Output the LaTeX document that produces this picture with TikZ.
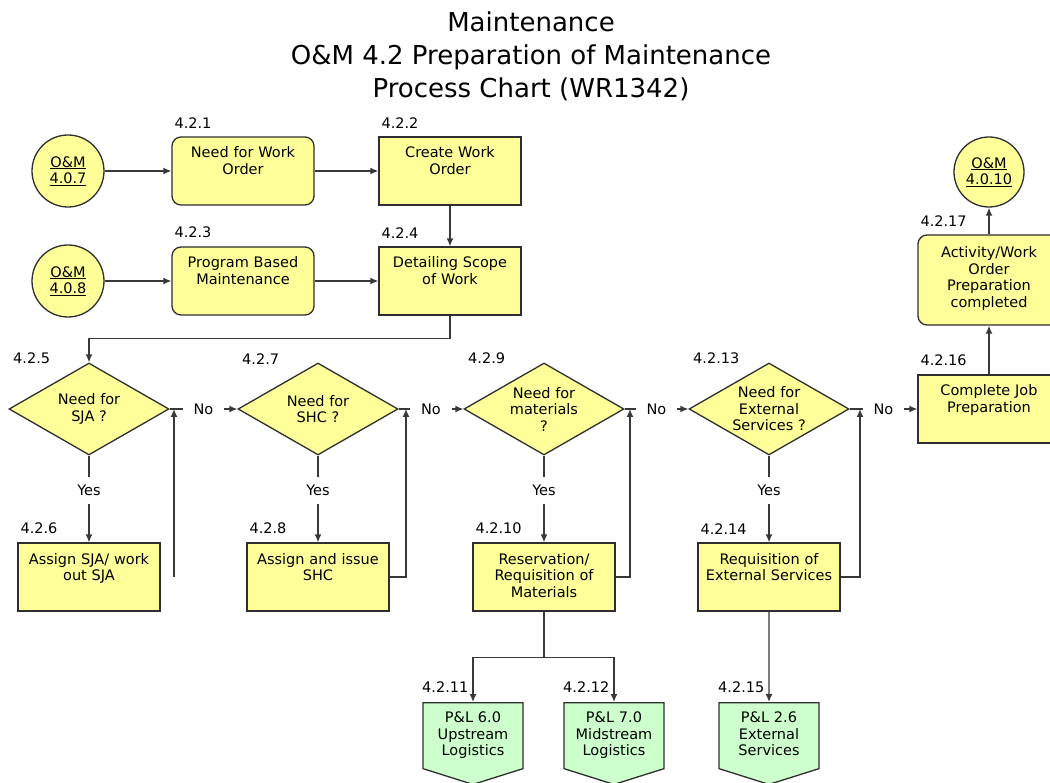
\documentclass[tikz,border=0pt]{standalone}
\usepackage{fontspec}
\setmainfont{DejaVu Sans}
\usepackage{tikz}
\usetikzlibrary{arrows.meta,
                positioning,
                shapes.geometric,
                shapes.symbols
                }
\definecolor{boxyellow}{HTML}{FFFF99}
\definecolor{pagegreen}{HTML}{CCFFCC}
\definecolor{edgegray}{HTML}{2E2E2E}
\definecolor{linegray}{HTML}{383838}

\tikzset{
    every node/.style={font=\fontsize{14.5}{16.5}\selectfont},
    proc/.style={draw=edgegray, fill=boxyellow, line width=1.3pt, align=center,
                 text width=130pt, inner xsep=6pt, inner ysep=4pt,
                 text height=17pt, text depth=43pt},
    rproc/.style={proc, rounded corners=9pt},
    conn/.style={circle, draw=edgegray, fill=boxyellow, line width=1.3pt,
                 minimum size=72pt, inner sep=0pt, align=center},
    dec/.style={diamond, aspect=1.74, draw=edgegray, fill=boxyellow, line width=1.3pt,
                minimum width=160pt, minimum height=92pt, inner sep=0pt, align=center},
    offpage/.style={signal, signal to=south, signal pointer angle=145,
                    draw=edgegray, fill=pagegreen, line width=1.3pt, align=center,
                    text width=88pt, inner xsep=6pt, inner ysep=4pt,
                    text height=16pt, text depth=42pt},
    num/.style={anchor=south west, inner sep=0pt},
    flow/.style={draw=linegray, line width=1.4pt, -{Latex[length=8pt,width=7pt]}},
    answer/.style={fill=white, inner xsep=11pt, inner ysep=8pt}
}

\begin{document}
\begin{tikzpicture}[x=1pt, y=-1pt]
            \useasboundingbox (0,0) rectangle (1050,783);
            \clip (0,0) rectangle (1050,783);

            %title
            \node[font=\fontsize{26}{33}\selectfont, align=center] (title) at (531,56)
                {Maintenance\\O\&M 4.2 Preparation of Maintenance\\Process Chart (WR1342)};

            %inputs and first steps
            \node[conn] (c407) at (68,171) {\underline{O\&M}\\\underline{4.0.7}};
            \node[conn] (c408) at (68,281) {\underline{O\&M}\\\underline{4.0.8}};
            \node[rproc] (p421) at (243,171) {Need for Work\\Order};
            \node[proc] (p422) at (450,171) {Create Work\\Order};
            \node[rproc] (p423) at (243,281) {Program Based\\Maintenance};
            \node[proc] (p424) at (450,281) {Detailing Scope\\of Work};

            %decisions
            \node[dec] (d425) at (89,409) {Need for\\SJA ?};
            \node[dec] (d427) at (318,409) {Need for\\SHC ?};
            \node[dec] (d429) at (544,409) {Need for\\materials\\?};
            \node[dec] (d4213) at (769,409) {Need for\\External\\Services ?};

            %work steps
            \node[proc] (p426) at (89,577) {Assign SJA/ work\\out SJA};
            \node[proc] (p428) at (318,577) {Assign and issue\\SHC};
            \node[proc] (p4210) at (544,577) {Reservation/\\Requisition of\\Materials};
            \node[proc] (p4214) at (769,577) {Requisition of\\External Services};
            \node[proc] (p4216) at (989,409) {Complete Job\\Preparation};
            \node[rproc, text height=19pt, text depth=63pt] (p4217) at (989,280)
                {Activity/Work\\Order\\Preparation\\completed};
            \node[conn, minimum size=70pt] (c4010) at (989,172) {\underline{O\&M}\\\underline{4.0.10}};

            %off-page connectors
            \node[offpage, anchor=north] (p4211) at (473,702) {P\&L 6.0\\Upstream\\Logistics};
            \node[offpage, anchor=north] (p4212) at (614,702) {P\&L 7.0\\Midstream\\Logistics};
            \node[offpage, anchor=north] (p4215) at (769,702) {P\&L 2.6\\External\\Services};

            %step numbers
            \foreach \nd/\lb in {p421/4.2.1, p422/4.2.2, p423/4.2.3, p424/4.2.4, p426/4.2.6,
                                 p428/4.2.8, p4210/4.2.10, p4214/4.2.14, p4216/4.2.16, p4217/4.2.17}
                \node[num] (n\nd) at ([shift={(3,-8)}]\nd.north west) {\lb};
            \foreach \nd/\lb in {d425/4.2.5, d427/4.2.7, d429/4.2.9, d4213/4.2.13}
                \node[num] (n\nd) at ([shift={(-76,2)}]\nd.north) {\lb};
            \foreach \nd/\lb in {p4211/4.2.11, p4212/4.2.12, p4215/4.2.15}
                \node[num] (n\nd) at ([shift={(-51,-9)}]\nd.north) {\lb};

            %connectors
            \draw[flow] (c407) -- (p421);
            \draw[flow] (p421) -- (p422);
            \draw[flow] (p422) -- (p424);
            \draw[flow] (c408) -- (p423);
            \draw[flow] (p423) -- (p424);
            \draw[flow] (p424.south) -- ++(0,23) -| (d425.north);

            \draw[flow] (d425) -- node[answer] {No} (d427);
            \draw[flow] (d427) -- node[answer] {No} (d429);
            \draw[flow] (d429) -- node[answer] {No} (d4213);
            \draw[flow] (d4213) -- node[answer] {No} (p4216);

            \draw[flow] (d425) -- node[answer, pos=.4] {Yes} (p426);
            \draw[flow] (d427) -- node[answer, pos=.4] {Yes} (p428);
            \draw[flow] (d429) -- node[answer, pos=.4] {Yes} (p4210);
            \draw[flow] (d4213) -- node[answer, pos=.4] {Yes} (p4214);

            %loops back to the No line
            \coordinate (j425) at (174,409);
            \coordinate (r426) at (174,577);
            \coordinate (j427) at (406,409);
            \coordinate (j429) at (630,409);
            \coordinate (j4213) at (860,409);
            \draw[flow] (r426) -- (j425);
            \draw[flow] (p428) -| (j427);
            \draw[flow] (p4210) -| (j429);
            \draw[flow] (p4214) -| (j4213);

            %hand-over
            \draw[flow] (p4210.south) -- ++(0,46) -| (p4211.north);
            \draw[flow] (p4210.south) -- ++(0,46) -| (p4212.north);
            \draw[flow] (p4214) -- (p4215);
            \draw[flow] (p4216) -- (p4217);
            \draw[flow] (p4217) -- (c4010);
\end{tikzpicture}
\end{document}
